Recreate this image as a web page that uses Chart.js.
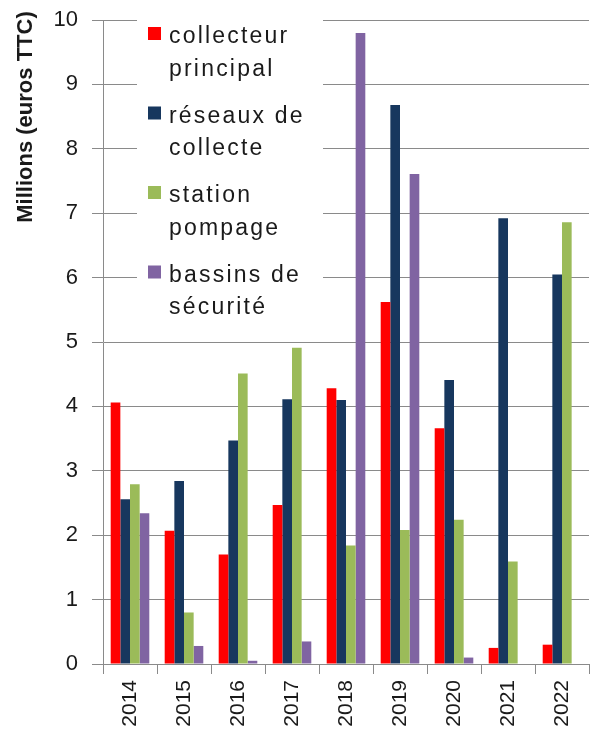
<!DOCTYPE html>
<html>
<head>
<meta charset="utf-8">
<script src="https://cdn.jsdelivr.net/npm/chart.js@4/dist/chart.umd.min.js"></script>
<style>
  html, body { margin: 0; padding: 0; background: #fff; }
  #wrap { width: 591px; height: 740px; }
</style>
</head>
<body>
<div id="wrap"><canvas id="c" width="591" height="740"></canvas></div>
<script>
// Investment per year and per type of works, in millions of euros (TTC)
const years = ['2014', '2015', '2016', '2017', '2018', '2019', '2020', '2021', '2022'];
const collecteurPrincipal = [4.06, 2.07, 1.70, 2.47, 4.28, 5.62, 3.66, 0.25, 0.30];
const reseauxCollecte     = [2.56, 2.84, 3.47, 4.11, 4.10, 8.68, 4.41, 6.92, 6.05];
const stationPompage      = [2.79, 0.80, 4.51, 4.91, 1.84, 2.08, 2.24, 1.59, 6.86];
const bassinsSecurite     = [2.34, 0.28, 0.05, 0.35, 9.80, 7.61, 0.10, 0, 0];
const seriesLabels = [
  ['collecteur', 'principal'],
  ['réseaux de', 'collecte'],
  ['station', 'pompage'],
  ['bassins de', 'sécurité']
];
const yTicks = [0, 1, 2, 3, 4, 5, 6, 7, 8, 9, 10];
const axisTitle = 'Millions (euros TTC)';

const colors = ['#ff0000', '#17375e', '#9bbb59', '#8064a2'];
const FONT = '"Liberation Sans", Arial, sans-serif';

// Legend drawn inside the plot, on a white panel covering the gridlines
const panelLegend = {
  id: 'panelLegend',
  beforeDatasetsDraw(chart) {
    const ctx = chart.ctx;
    ctx.save();
    ctx.fillStyle = '#ffffff';
    ctx.fillRect(137, 12, 186, 310);
    ctx.font = '23px ' + FONT;
    ctx.letterSpacing = '2.2px';
    ctx.textBaseline = 'alphabetic';
    ctx.textAlign = 'left';
    chart.data.datasets.forEach((ds, i) => {
      const base = 43 + i * 79.5;
      ctx.fillStyle = ds.backgroundColor;
      ctx.fillRect(148, base - 16, 13, 13);
      ctx.fillStyle = '#1a1a1a';
      ds.legendLines.forEach((line, k) => {
        ctx.fillText(line, 169, base + k * 32.5);
      });
    });
    ctx.restore();
  }
};

// Vertical axis title placed near the top of the axis
const sideTitle = {
  id: 'sideTitle',
  afterDraw(chart) {
    const ctx = chart.ctx;
    ctx.save();
    ctx.translate(26, 117);
    ctx.rotate(-Math.PI / 2);
    ctx.font = 'bold 22px ' + FONT;
    ctx.fillStyle = '#1a1a1a';
    ctx.textAlign = 'center';
    ctx.textBaseline = 'middle';
    ctx.fillText(axisTitle, 0, 0);
    ctx.restore();
  }
};

const seriesValues = [collecteurPrincipal, reseauxCollecte, stationPompage, bassinsSecurite];

new Chart(document.getElementById('c'), {
  type: 'bar',
  data: {
    labels: years,
    datasets: seriesValues.map((vals, i) => ({
      label: seriesLabels[i].join(' '),
      legendLines: seriesLabels[i],
      data: vals,
      backgroundColor: colors[i],
      borderWidth: 0,
      categoryPercentage: 0.715,
      barPercentage: 1.0
    }))
  },
  options: {
    responsive: false,
    animation: false,
    devicePixelRatio: 1,
    layout: { padding: { top: 20, right: 2, left: 0, bottom: 0 } },
    plugins: {
      legend: { display: false },
      tooltip: { enabled: false }
    },
    scales: {
      x: {
        grid: {
          offset: true,
          drawOnChartArea: false,
          drawTicks: true,
          tickLength: 10,
          color: '#8a8a8a',
          lineWidth: 1
        },
        border: { color: '#8a8a8a', width: 1 },
        ticks: {
          minRotation: 90,
          maxRotation: 90,
          padding: 6,
          color: '#1a1a1a',
          font: { family: FONT, size: 21 }
        },
        afterFit(scale) {
          scale.height = 76;
          scale.paddingLeft = 0;
          scale.paddingRight = 0;
        }
      },
      y: {
        min: 0,
        max: 10,
        afterBuildTicks(scale) { scale.ticks = yTicks.map(v => ({ value: v })); },
        grid: {
          color: '#8a8a8a',
          lineWidth: 1,
          tickLength: 11
        },
        border: { color: '#8a8a8a', width: 1 },
        ticks: {
          padding: 14,
          color: '#1a1a1a',
          font: { family: FONT, size: 22 }
        },
        afterFit(scale) {
          scale.width = 103;
          scale.paddingTop = 0;
          scale.paddingBottom = 0;
        }
      }
    }
  },
  plugins: [panelLegend, sideTitle]
});
</script>
</body>
</html>
